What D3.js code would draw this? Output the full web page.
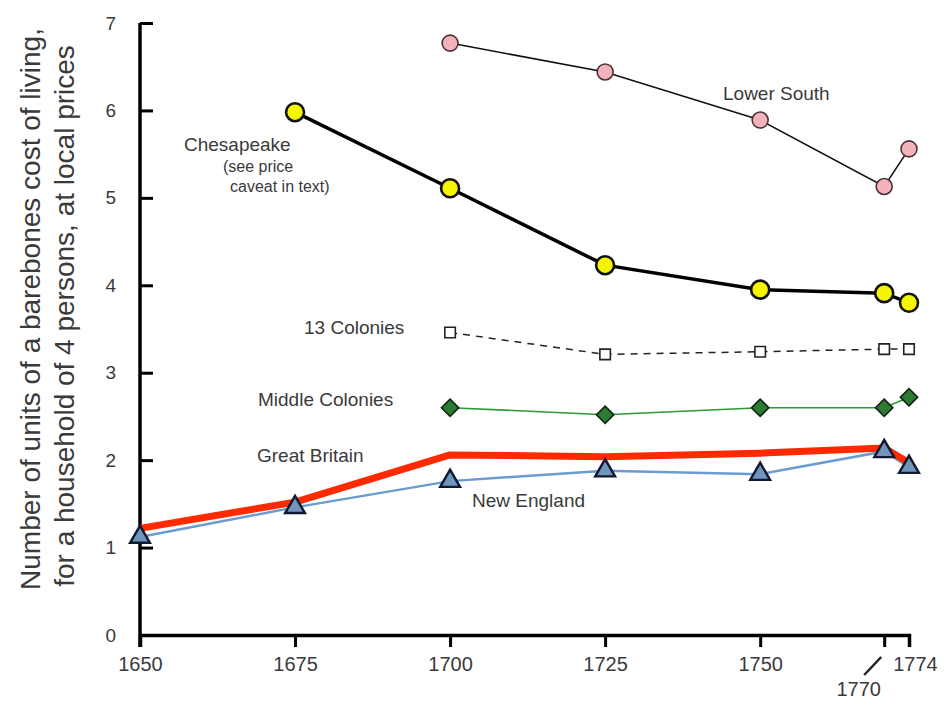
<!DOCTYPE html>
<html>
<head>
<meta charset="utf-8">
<script src="https://cdn.jsdelivr.net/npm/d3@7"></script>
<style>
  body { margin: 0; background: #fff; }
  svg text { font-family: "Liberation Sans", Arial, sans-serif; fill: #3a3a3a; }
</style>
</head>
<body>
<div id="chart"></div>
<script>
// data
var years = [1650, 1675, 1700, 1725, 1750, 1770, 1774];
var tickYears = [1650, 1675, 1700, 1725, 1750, 1770, 1774];
var yTicks = [0, 1, 2, 3, 4, 5, 6, 7];

var lowerSouthYears = [1700, 1725, 1750, 1770, 1774];
var lowerSouth = [6.77, 6.44, 5.89, 5.13, 5.56];

var chesapeakeYears = [1675, 1700, 1725, 1750, 1770, 1774];
var chesapeake = [5.98, 5.11, 4.23, 3.95, 3.91, 3.80];

var coloniesYears = [1700, 1725, 1750, 1770, 1774];
var colonies13 = [3.46, 3.21, 3.24, 3.27, 3.27];

var middleYears = [1700, 1725, 1750, 1770, 1774];
var middleColonies = [2.60, 2.52, 2.60, 2.60, 2.72];

var britain = [1.22, 1.52, 2.06, 2.04, 2.08, 2.14, 1.97];
var newEngland = [1.12, 1.46, 1.76, 1.88, 1.84, 2.10, 1.92];

var width = 946, height = 708;

var svg = d3.select("#chart").append("svg")
    .attr("width", width)
    .attr("height", height);

var x = d3.scaleLinear().domain([1650, 1774]).range([140, 909]);
var y = d3.scaleLinear().domain([0, 7]).range([635, 23]);

function pairs(ys, vs){
  return ys.map(function(d, i){ return {year: d, value: vs[i]}; });
}

var line = d3.line()
    .x(function(d){ return x(d.year); })
    .y(function(d){ return y(d.value); });

// axes
var xAxis = svg.append("g")
    .attr("transform", "translate(0," + y(0) + ")")
    .call(d3.axisBottom(x)
      .tickValues(tickYears)
      .tickSizeOuter(0)
      .tickSize(12)
      .tickPadding(10)
      .tickFormat(d3.format("d")));
xAxis.select(".domain").attr("stroke-width", 3.5);
xAxis.selectAll(".tick line").attr("stroke-width", 3);
xAxis.selectAll("text").attr("font-size", 20).attr("fill", "#3a3a3a");
xAxis.selectAll(".tick").filter(function(d){ return d == 1770; }).select("text")
    .attr("dx", -26).attr("dy", "1.95em");
xAxis.selectAll(".tick").filter(function(d){ return d == 1774; }).select("text")
    .attr("dx", 6);
// slash mark linking the 1770 label to its tick
svg.append("line")
    .attr("x1", x(1770) - 20).attr("y1", 675)
    .attr("x2", x(1770) - 3).attr("y2", 657)
    .attr("stroke", "#222").attr("stroke-width", 2.5);

var yAxis = svg.append("g")
    .attr("transform", "translate(" + x(1650) + ",0)")
    .call(d3.axisLeft(y)
      .tickValues(yTicks)
      .tickSizeOuter(0)
      .tickSize(-13)
      .tickPadding(24)
      .tickFormat(d3.format("d")));
yAxis.select(".domain").attr("stroke-width", 3.5)
    .attr("d", "M0," + (y(0) + 12) + "V" + y(7));
yAxis.selectAll(".tick line").attr("stroke-width", 3)
    .filter(function(d){ return d == 0; }).remove();
yAxis.selectAll("text").attr("font-size", 19).attr("fill", "#3a3a3a");

// y axis title, two lines
svg.append("text")
    .attr("transform", "translate(40,309) rotate(-90)")
    .attr("text-anchor", "middle")
    .attr("font-size", 28)
    .text("Number of units of a barebones cost of living,");
svg.append("text")
    .attr("transform", "translate(74,316) rotate(-90)")
    .attr("text-anchor", "middle")
    .attr("font-size", 28)
    .text("for a household of 4 persons, at local prices");

// Lower South
var lsData = pairs(lowerSouthYears, lowerSouth);
svg.append("path").datum(lsData).attr("d", line)
    .attr("fill", "none").attr("stroke", "#111").attr("stroke-width", 1.5);
svg.selectAll(".ls").data(lsData).enter().append("circle")
    .attr("cx", function(d){ return x(d.year); })
    .attr("cy", function(d){ return y(d.value); })
    .attr("r", 8)
    .attr("fill", "#f2b3bd").attr("stroke", "#4a3336").attr("stroke-width", 1.6);

// Chesapeake
var chData = pairs(chesapeakeYears, chesapeake);
svg.append("path").datum(chData).attr("d", line)
    .attr("fill", "none").attr("stroke", "#000").attr("stroke-width", 3.5);
svg.selectAll(".ch").data(chData).enter().append("circle")
    .attr("cx", function(d){ return x(d.year); })
    .attr("cy", function(d){ return y(d.value); })
    .attr("r", 9)
    .attr("fill", "#f5f500").attr("stroke", "#111").attr("stroke-width", 2.6);

// 13 Colonies
var c13 = pairs(coloniesYears, colonies13);
svg.append("path").datum(c13).attr("d", line)
    .attr("fill", "none").attr("stroke", "#222").attr("stroke-width", 1.5)
    .attr("stroke-dasharray", "7,6");
svg.selectAll(".c13").data(c13).enter().append("path")
    .attr("d", d3.symbol().type(d3.symbolSquare).size(110))
    .attr("transform", function(d){ return "translate(" + x(d.year) + "," + y(d.value) + ")"; })
    .attr("fill", "#fff").attr("stroke", "#222").attr("stroke-width", 1.6);

// Middle Colonies
var mid = pairs(middleYears, middleColonies);
svg.append("path").datum(mid).attr("d", line)
    .attr("fill", "none").attr("stroke", "#2f9a35").attr("stroke-width", 1.6);
svg.selectAll(".mid").data(mid).enter().append("path")
    .attr("d", d3.symbol().type(d3.symbolSquare).size(150))
    .attr("transform", function(d){ return "translate(" + x(d.year) + "," + y(d.value) + ") rotate(45)"; })
    .attr("fill", "#2c7a34").attr("stroke", "#102510").attr("stroke-width", 1.6);

// New England line, then Great Britain, then triangles
var ne = pairs(years, newEngland);
svg.append("path").datum(ne).attr("d", line)
    .attr("fill", "none").attr("stroke", "#6b9bcf").attr("stroke-width", 2.5);

var gb = pairs(years, britain);
svg.append("path").datum(gb).attr("d", line)
    .attr("fill", "none").attr("stroke", "#ff2a00").attr("stroke-width", 7)
    .attr("stroke-linejoin", "round");

svg.selectAll(".ne").data(ne).enter().append("path")
    .attr("d", d3.symbol().type(d3.symbolTriangle).size(170))
    .attr("transform", function(d){ return "translate(" + x(d.year) + "," + y(d.value) + ")"; })
    .attr("fill", "#6f95bd").attr("stroke", "#0f1a30").attr("stroke-width", 2.4);

// series labels
function label(t, lx, ly, size){
  svg.append("text").attr("x", lx).attr("y", ly).attr("font-size", size).text(t);
}
label("Lower South", 723, 100, 19);
label("Chesapeake", 184, 151, 19);
label("(see price", 223, 172, 16);
label("caveat in text)", 230, 192, 16);
label("13 Colonies", 304, 334, 19);
label("Middle Colonies", 258, 406, 19);
label("Great Britain", 257, 462, 19);
label("New England", 472, 507, 19);
</script>
</body>
</html>
